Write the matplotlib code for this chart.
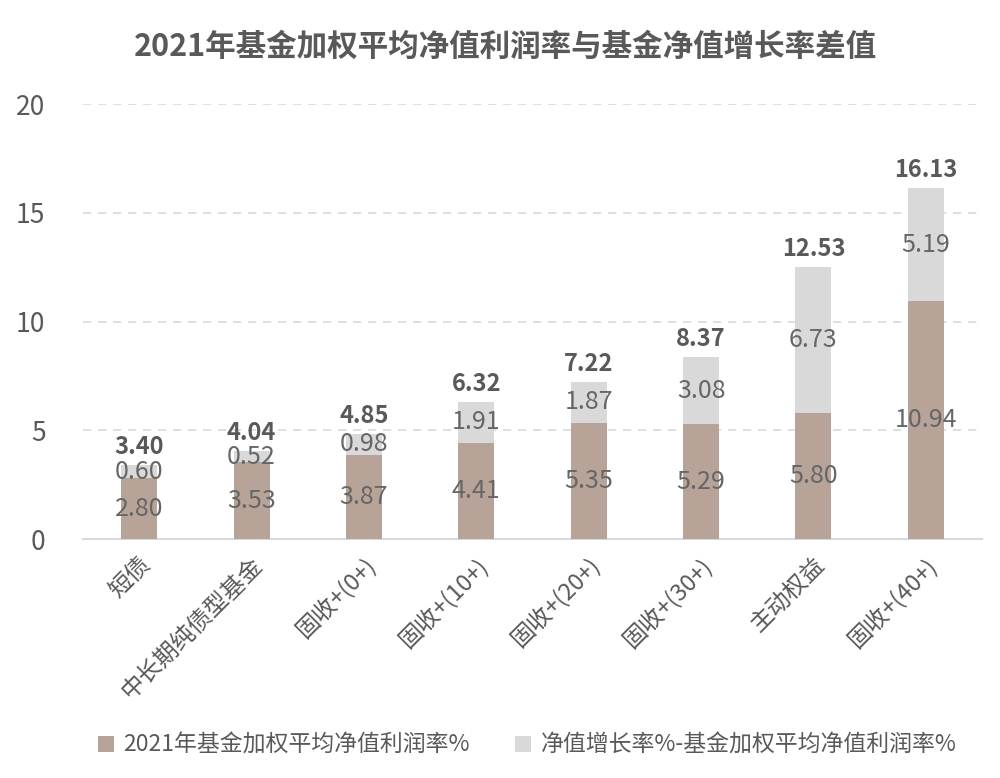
import matplotlib
matplotlib.use("Agg")
import matplotlib.pyplot as plt
import numpy as np

plt.rcParams["font.family"] = ["Noto Sans CJK SC", "DejaVu Sans"]

categories = ["短债", "中长期纯债型基金", "固收+(0+)", "固收+(10+)", "固收+(20+)",
              "固收+(30+)", "主动权益", "固收+(40+)"]
profit_rate = [2.80, 3.53, 3.87, 4.41, 5.35, 5.29, 5.80, 10.94]
diff_rate = [0.60, 0.52, 0.98, 1.91, 1.87, 3.08, 6.73, 5.19]
totals = [3.40, 4.04, 4.85, 6.32, 7.22, 8.37, 12.53, 16.13]
yticks = [0, 5, 10, 15, 20]

brown = "#B8A398"
grey = "#D9D9D9"
txt = "#595959"

fig = plt.figure(figsize=(10, 7.78), dpi=100)
ax = fig.add_axes([0.083, 0.307, 0.899, 0.559])

x = np.arange(len(categories))
w = 0.32
b1 = ax.bar(x, profit_rate, w, color=brown, label="2021年基金加权平均净值利润率%", zorder=3)
b2 = ax.bar(x, diff_rate, w, bottom=profit_rate, color=grey,
            label="净值增长率%-基金加权平均净值利润率%", zorder=3)

for i in range(len(categories)):
    ax.text(x[i], profit_rate[i] / 2, f"{profit_rate[i]:.2f}", ha="center", va="center",
            fontsize=18, color="#666666", fontweight="light", zorder=4)
    ax.text(x[i], profit_rate[i] + diff_rate[i] / 2, f"{diff_rate[i]:.2f}", ha="center",
            va="center", fontsize=18, color="#666666", fontweight="light", zorder=4)
    ax.annotate(f"{totals[i]:.2f}", (x[i], totals[i]), xytext=(0, 8),
                textcoords="offset points", ha="center", va="baseline",
                fontsize=17, color=txt, fontweight="bold", zorder=4)

ax.set_xlim(-0.5, len(categories) - 0.5)
ax.set_ylim(0, 20)
ax.set_yticks(yticks)
ax.set_yticklabels([str(t) for t in yticks], fontsize=19, color=txt, fontweight="light")
ax.set_xticks(x)
ax.set_xticklabels(categories, rotation=45, ha="right", rotation_mode="anchor",
                   fontsize=17, color=txt, fontweight="light")
ax.tick_params(axis="both", length=0)
ax.tick_params(axis="y", pad=27)
ax.tick_params(axis="x", pad=10)

ax.grid(axis="y", color=grey, linestyle=(0, (5, 4)), linewidth=1.2, zorder=0)
for s in ["top", "right", "left"]:
    ax.spines[s].set_visible(False)
ax.spines["bottom"].set_color(grey)
ax.spines["bottom"].set_linewidth(1.5)

fig.text(0.505, 0.94, "2021年基金加权平均净值利润率与基金净值增长率差值", ha="center",
         va="center", fontsize=22, fontweight="bold", color=txt)

fig.legend(handles=[b1, b2], loc="center", bbox_to_anchor=(0.527, 0.042), ncol=2,
           frameon=False, handlelength=0.7, handleheight=0.7,
           columnspacing=2.0, handletextpad=0.4, labelcolor=txt,
           prop={"weight": "light", "size": 16.5})

fig.savefig("out.png", dpi=100)
